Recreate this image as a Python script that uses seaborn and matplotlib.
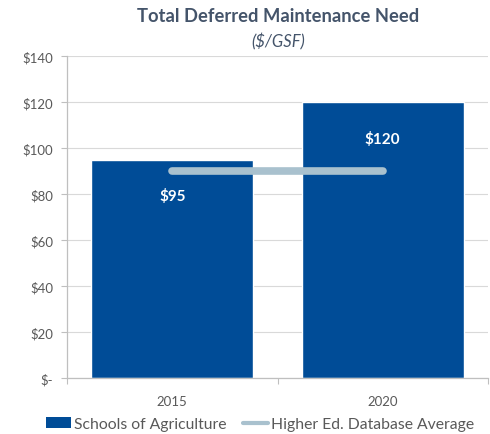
import matplotlib
matplotlib.use("Agg")
import matplotlib.pyplot as plt
import seaborn as sns
import pandas as pd
from matplotlib.patches import Patch
from matplotlib.lines import Line2D

years = ["2015", "2020"]
schools = [95, 120]
db_average = [90, 90]
ytick_vals = [0, 20, 40, 60, 80, 100, 120, 140]
ytick_labels = ["$-", "$20", "$40", "$60", "$80", "$100", "$120", "$140"]
bar_labels = ["$95", "$120"]

sns.set_theme(style="white")
plt.rcParams['font.family'] = ['Lato', 'DejaVu Sans']

bar_color = "#004C97"
line_color = "#A9C1CE"
text_gray = "#595959"

df = pd.DataFrame({"year": years, "value": schools})

fig = plt.figure(figsize=(4.9, 4.35), dpi=100)
ax = fig.add_axes([67/490, 1-379/435, (488-67)/490, (379-57)/435])

sns.barplot(data=df, x="year", y="value", color=bar_color, width=0.77,
            saturation=1, ax=ax, zorder=2)
ax.plot(range(len(years)), db_average, color=line_color, lw=5.5,
        solid_capstyle="round", zorder=3)

for i, (v, lab) in enumerate(zip(schools, bar_labels)):
    ax.annotate(lab, (i, v), xytext=(0, -36), textcoords="offset pixels",
                ha="center", va="center", color="white", fontsize=11, fontweight="bold", zorder=4)

ax.set_ylim(0, 140)
ax.set_xlim(-0.5, 1.5)
ax.set_yticks(ytick_vals)
ax.set_yticklabels(ytick_labels, color=text_gray, fontsize=9.5)
ax.tick_params(axis="x", labelsize=9.5, labelcolor=text_gray, length=0, pad=12)
ax.tick_params(axis="y", length=4, color="#BFBFBF", width=0.8, pad=6, left=True)
ax.set_xticks([0, 1])
ax.set_xticklabels(years)
ax.set_xlabel("")
ax.set_ylabel("")
ax.yaxis.grid(True, color="#D9D9D9", lw=0.8, zorder=0)
ax.set_axisbelow(True)

for s in ["top", "right"]:
    ax.spines[s].set_visible(False)
for s in ["left", "bottom"]:
    ax.spines[s].set_color("#BFBFBF")
    ax.spines[s].set_linewidth(0.9)

ax.set_xticks([-0.5, 0.5, 1.5], minor=True)
ax.tick_params(axis="x", which="minor", length=4, color="#BFBFBF", width=0.8, bottom=True)

fig.text(278/490, 1-17/435, "Total Deferred Maintenance Need", ha="center", va="center",
         fontsize=13.2, fontweight="bold", color="#44546A")
fig.text(278/490, 1-42/435, "($/GSF)", ha="center", va="center",
         fontsize=12, fontstyle="italic", color="#44546A")

handles = [Patch(facecolor=bar_color, edgecolor="none"),
           Line2D([0], [0], color=line_color, lw=3)]
fig.legend(handles, ["Schools of Agriculture", "Higher Ed. Database Average"],
           loc="center", bbox_to_anchor=(260/490, 1-425/435), ncol=2, frameon=False,
           fontsize=11.3, handlelength=1.6, handleheight=0.7, columnspacing=1.0,
           handletextpad=0.2, labelcolor=text_gray)

fig.savefig("out.png", dpi=100)
